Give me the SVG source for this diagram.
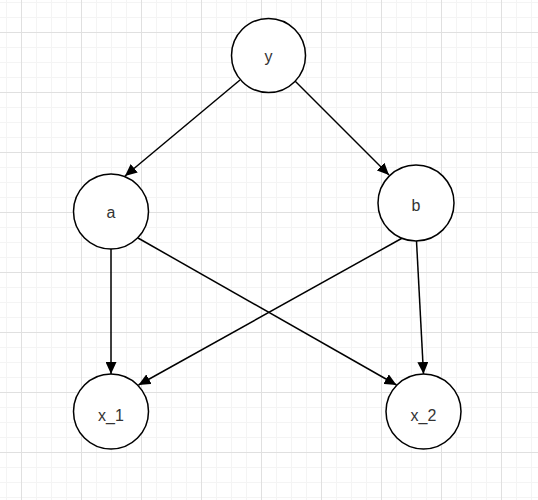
<svg xmlns="http://www.w3.org/2000/svg" width="538" height="500" viewBox="0 0 538 500">
  <defs>
    <pattern id="minor" patternUnits="userSpaceOnUse" x="6" y="2" width="15" height="15">
      <rect x="0" y="0" width="1" height="15" fill="#f4f4f4"/>
      <rect x="0" y="0" width="15" height="1" fill="#f4f4f4"/>
    </pattern>
    <pattern id="major" patternUnits="userSpaceOnUse" x="21" y="32" width="60" height="60">
      <rect x="0" y="0" width="1" height="60" fill="#e0e0e0"/>
      <rect x="0" y="0" width="60" height="1" fill="#e0e0e0"/>
    </pattern>
    <marker id="arrow" viewBox="0 0 12 11" refX="12" refY="5.5" markerWidth="12" markerHeight="11" markerUnits="userSpaceOnUse" orient="auto">
      <path d="M0,0 L12,5.5 L0,11 z" fill="#000"/>
    </marker>
    <style>
      .node circle { fill: #ffffff; stroke: #000000; stroke-width: 1.5; }
      .node text { font-family: "Liberation Sans", Arial, sans-serif; font-size: 16px; fill: #333333; text-anchor: middle; }
      .edge { fill: none; stroke: #000000; stroke-width: 1.5; marker-end: url(#arrow); }
    </style>
  </defs>
  <rect width="538" height="500" fill="#ffffff"/>
  <rect width="538" height="500" fill="url(#minor)"/>
  <rect width="538" height="500" fill="url(#major)"/>

  <g id="connectors">
    <line class="edge" x1="240" y1="80" x2="125" y2="176"/>
    <line class="edge" x1="295" y1="81" x2="389" y2="175"/>
    <line class="edge" x1="111" y1="249" x2="111" y2="374"/>
    <line class="edge" x1="138" y1="238" x2="396.5" y2="385"/>
    <line class="edge" x1="401.5" y1="238.5" x2="138.5" y2="385"/>
    <line class="edge" x1="416.5" y1="241" x2="423.5" y2="374"/>
  </g>

  <g id="node-y" class="node">
    <circle cx="268.5" cy="55.5" r="37"/>
    <text x="268.5" y="62">y</text>
  </g>
  <g id="node-a" class="node">
    <circle cx="111" cy="211.5" r="37.5"/>
    <text x="111" y="218">a</text>
  </g>
  <g id="node-b" class="node">
    <circle cx="416" cy="203" r="38"/>
    <text x="416" y="211">b</text>
  </g>
  <g id="node-x1" class="node">
    <circle cx="111" cy="411.5" r="37.5"/>
    <text x="111" y="421">x_1</text>
  </g>
  <g id="node-x2" class="node">
    <circle cx="423.5" cy="411.5" r="37.5"/>
    <text x="423.5" y="421">x_2</text>
  </g>
</svg>
